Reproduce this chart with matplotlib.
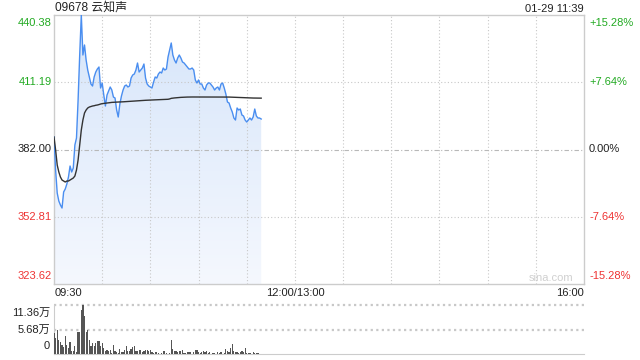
import matplotlib
matplotlib.use("Agg")
import matplotlib.pyplot as plt
import numpy as np

# ---------------- data ----------------
title = "09678 云知声"
stamp = "01-29 11:39"
prev_close = 382.00
price_ticks = [440.38, 411.19, 382.00, 352.81, 323.62]
pct_ticks = ["+15.28%", "+7.64%", "0.00%", "-7.64%", "-15.28%"]
time_labels = ["09:30", "12:00/13:00", "16:00"]
vol_ticks = [113600, 56800, 0]
vol_tick_labels = ["11.36万", "5.68万", "0"]

price = [387.42, 373.09, 363.11, 359.64, 357.90, 356.60, 363.55, 364.85, 367.02, 370.05,
         374.83, 372.23, 373.96, 383.95, 386.99, 403.48, 423.02, 440.38, 423.02, 427.36,
         420.85, 416.50, 413.47, 410.43, 409.56, 413.47, 415.63, 416.94, 417.81, 408.69,
         410.86, 405.65, 400.88, 405.65, 407.39, 409.12, 407.82, 404.78, 404.35, 399.14,
         396.10, 401.74, 405.22, 407.82, 409.56, 409.99, 409.12, 409.56, 413.03, 414.33,
         414.77, 416.50, 419.54, 415.63, 416.50, 417.37, 419.11, 413.03, 410.43, 409.56,
         409.12, 408.69, 411.29, 413.47, 413.03, 414.77, 415.63, 415.20, 417.37, 416.50,
         416.94, 422.15, 425.19, 428.23, 423.02, 420.85, 419.54, 421.71, 423.02, 421.71,
         419.98, 419.54, 418.67, 417.81, 416.94, 416.94, 417.37, 416.50, 412.16, 410.86,
         412.16, 410.43, 410.43, 408.69, 407.82, 409.99, 410.86, 410.86, 409.99, 409.12,
         407.82, 408.69, 409.12, 407.82, 410.43, 410.86, 408.69, 406.09, 402.61, 402.18,
         400.01, 398.27, 395.67, 394.80, 400.01, 399.14, 399.57, 396.97, 396.54, 394.80,
         393.93, 394.80, 395.67, 394.80, 396.10, 399.57, 396.54, 395.67, 395.67, 395.23]

avg_price = [387.42, 381.78, 375.27, 372.23, 370.05, 368.75, 368.32, 367.89, 368.32, 368.32,
             368.75, 369.19, 369.62, 370.49, 373.09, 377.43, 383.95, 390.46, 394.80, 397.84,
             399.14, 400.01, 400.44, 400.66, 400.88, 401.00, 401.20, 401.31, 401.50, 401.74,
             401.90, 402.00, 402.10, 402.18, 402.25, 402.35, 402.45, 402.50, 402.55, 402.60,
             402.61, 402.63, 402.66, 402.70, 402.75, 402.80, 402.85, 402.90, 402.95, 403.00,
             403.05, 403.10, 403.15, 403.20, 403.24, 403.28, 403.32, 403.36, 403.40, 403.44,
             403.48, 403.50, 403.52, 403.55, 403.58, 403.61, 403.64, 403.67, 403.70, 403.73,
             403.76, 403.80, 403.95, 404.20, 404.30, 404.38, 404.45, 404.52, 404.58, 404.63,
             404.67, 404.71, 404.74, 404.76, 404.78, 404.78, 404.79, 404.79, 404.80, 404.80,
             404.80, 404.80, 404.80, 404.80, 404.80, 404.80, 404.80, 404.80, 404.80, 404.80,
             404.80, 404.80, 404.80, 404.80, 404.80, 404.79, 404.79, 404.79, 404.78, 404.76,
             404.73, 404.70, 404.66, 404.62, 404.59, 404.56, 404.53, 404.50, 404.47, 404.44,
             404.42, 404.40, 404.38, 404.36, 404.34, 404.33, 404.32, 404.31, 404.30, 404.29]

volume = [48000, 36000, 55000, 32000, 27000, 22000, 16000, 42000, 22000, 15000,
          28000, 6000, 8000, 18000, 4000, 52000, 52000, 103000, 114000, 87000,
          50000, 56000, 33000, 18000, 25000, 18000, 25000, 31000, 31000, 18000,
          25000, 14000, 6000, 10000, 6000, 10000, 2000, 21000, 8000, 4000,
          2000, 12000, 5000, 3900, 10000, 19300, 6200, 6200, 11600, 15500,
          19300, 6200, 6200, 8500, 8500, 3900, 7700, 10000, 10000, 6200,
          8500, 3900, 2300, 3900, 3900, 1500, 800, 2300, 6200, 6200,
          2300, 800, 1500, 31700, 12400, 6200, 6200, 3900, 6200, 6200,
          8500, 2300, 1500, 4600, 3900, 4600, 800, 3900, 10000, 10000,
          3900, 2300, 3900, 6200, 3900, 7700, 2300, 4600, 800, 2300,
          2300, 800, 3900, 2300, 3900, 800, 2300, 11600, 6200, 3900,
          13900, 24000, 6200, 3900, 3900, 2300, 3900, 6200, 3900, 13900,
          2300, 2300, 2300, 800, 3900, 2300, 2300, 1500, 800, 1000]

# ---------------- style ----------------
W, H = 640, 360
GREEN = "#22aa22"
RED = "#ee3333"
GRID = "#c8c8c8"
FONT = ["Liberation Sans", "Noto Sans CJK SC", "DejaVu Sans"]
plt.rcParams["font.family"] = FONT
FS = 8.0

fig = plt.figure(figsize=(W / 100, H / 100), dpi=100)
fig.patch.set_facecolor("white")

def ax_rect(x0, y0, x1, y1):
    return [x0 / W, 1 - y1 / H, (x1 - x0) / W, (y1 - y0) / H]

ax = fig.add_axes(ax_rect(54, 15, 584, 284))
vax = fig.add_axes(ax_rect(54, 305, 584, 354))

total_minutes = 330
x = np.arange(len(price))
ymin, ymax = price_ticks[-1], price_ticks[0]

# main axes
ax.set_xlim(0, total_minutes)
ax.set_ylim(ymin, ymax)
for s in ax.spines.values():
    s.set_color("#cccccc")
    s.set_linewidth(1)
ax.set_xticks([])
ax.set_yticks([])

for t in range(30, total_minutes, 30):
    ax.axvline(t, color=GRID, lw=0.8, ls=(0, (1, 2)), zorder=3)
for p in price_ticks[1:-1]:
    if p == prev_close:
        ax.axhline(p, color="#b8b8b8", lw=0.8, ls=(0, (4, 2, 1, 2)), zorder=3)
    else:
        ax.axhline(p, color=GRID, lw=0.8, ls=(0, (1, 2)), zorder=3)

# gradient fill under price line
poly = ax.fill_between(x, price, ymin, color="none", lw=0)
grad = np.linspace(0, 1, 256).reshape(-1, 1)
cmap = matplotlib.colors.LinearSegmentedColormap.from_list(
    "g", ["#f5f8fe", "#d6e5fa"])
im = ax.imshow(grad, aspect="auto", cmap=cmap, origin="lower",
               extent=[0, len(price) - 1, ymin, ymax], zorder=2)
path = poly.get_paths()[0]
im.set_clip_path(path, transform=ax.transData)
ax.set_xlim(0, total_minutes)
ax.set_ylim(ymin, ymax)

ax.plot(x, price, color="#4a8ef0", lw=1.0, zorder=4)
ax.plot(x, avg_price, color="#333333", lw=1.0, zorder=5)

# price labels
colors = [GREEN, GREEN, "#222222", RED, RED]
vas = ["top", "center", "center", "center", "bottom"]
for p, pl, c, va in zip(price_ticks, pct_ticks, colors, vas):
    dy = -3 if va == "top" else (3 if va == "bottom" else 0)
    ax.annotate(f"{p:.2f}", xy=(0, p), xycoords=("axes fraction", "data"),
                xytext=(-2.5, dy), textcoords="offset pixels",
                ha="right", va=va, fontsize=FS, color=c)
    ax.annotate(pl, xy=(1, p), xycoords=("axes fraction", "data"),
                xytext=(5, dy), textcoords="offset pixels",
                ha="left", va=va, fontsize=FS, color=c)

# time labels
ax.annotate(time_labels[0], xy=(0, 0), xycoords="axes fraction", xytext=(1, -4),
            textcoords="offset pixels", ha="left", va="top", fontsize=FS, color="#222222")
ax.annotate(time_labels[1], xy=(150 / total_minutes, 0), xycoords="axes fraction",
            xytext=(0, -4), textcoords="offset pixels", ha="center", va="top",
            fontsize=FS, color="#222222")
ax.annotate(time_labels[2], xy=(1, 0), xycoords="axes fraction", xytext=(0, -4),
            textcoords="offset pixels", ha="right", va="top", fontsize=FS, color="#222222")

# title and stamp
ax.annotate(title, xy=(0, 1), xycoords="axes fraction", xytext=(1, 1),
            textcoords="offset pixels", ha="left", va="bottom", fontsize=8.6, color="#222222")
ax.annotate(stamp, xy=(1, 1), xycoords="axes fraction", xytext=(0, 1),
            textcoords="offset pixels", ha="right", va="bottom", fontsize=FS, color="#222222")
ax.annotate("sina.com", xy=(1, 0), xycoords="axes fraction", xytext=(-11, 1),
            textcoords="offset pixels", ha="right", va="bottom", fontsize=8,
            color="#d0d0d0")

# volume axes
vax.set_xlim(0, total_minutes)
vax.set_ylim(0, vol_ticks[0])
vax.set_xticks([])
vax.set_yticks([])
for k, s in vax.spines.items():
    s.set_visible(k in ("left", "bottom"))
    s.set_color("#cccccc")
for v in vol_ticks[:-1]:
    vax.axhline(v, color=GRID, lw=1.6, ls=(0, (1, 1.5)), zorder=1, clip_on=False)
vax.bar(x, volume, width=0.75, color="#555555", zorder=3, align="center")
vvas = ["top", "center", "bottom"]
for v, vl, va in zip(vol_ticks, vol_tick_labels, vvas):
    dy = -3 if va == "top" else (3 if va == "bottom" else 0)
    vax.annotate(vl, xy=(0, v), xycoords=("axes fraction", "data"),
                 xytext=(-4, dy), textcoords="offset pixels", ha="right", va=va,
                 fontsize=FS, color="#222222")

fig.savefig("out.png", dpi=100, facecolor="white")
